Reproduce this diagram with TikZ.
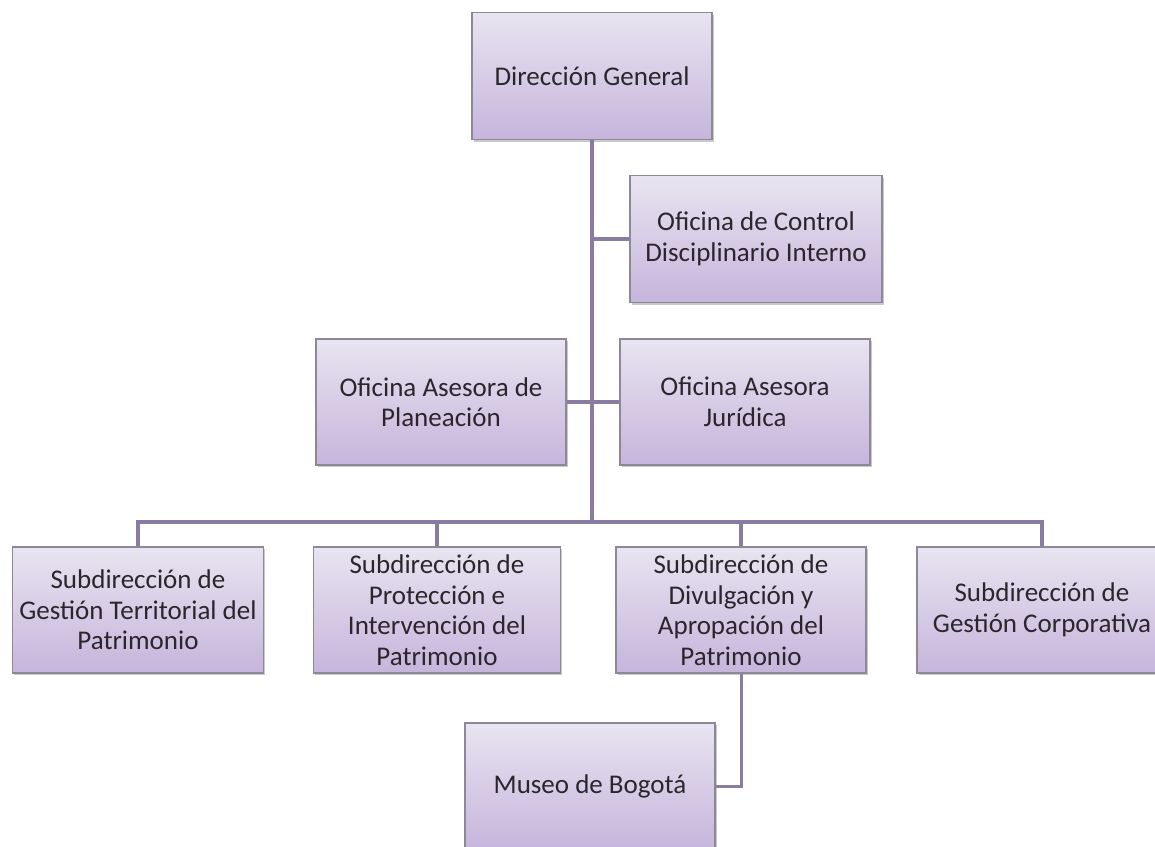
\documentclass[tikz,border=0pt]{standalone}
\usepackage{fontspec}
\setmainfont{Carlito}
\usetikzlibrary{shadows}
\definecolor{boxtop}{HTML}{E8E4F0}
\definecolor{boxbot}{HTML}{C6B5DC}
\definecolor{boxline}{HTML}{8C8898}
\definecolor{conn}{HTML}{8A7BA0}
\definecolor{txt}{HTML}{2A262C}
\tikzset{
  orgbox/.style={rectangle, draw=boxline, line width=1.2pt, top color=boxtop, bottom color=boxbot,
    minimum width=250pt, minimum height=126pt, inner sep=2pt, align=center, text=txt,
    font=\fontsize{27}{30.5}\selectfont,
    drop shadow={shadow xshift=1.5pt, shadow yshift=-2pt, opacity=0.35, fill=black!60}},
  orgline/.style={draw=conn, line width=3.5pt}
}
\begin{document}
\begin{tikzpicture}[x=1pt,y=-1pt]
\useasboundingbox (0,0) rectangle (1155,846);
\clip (0,0) rectangle (1155,846);
\fill[white] (0,0) rectangle (1155,846);
% nodes
\node[orgbox, minimum width=240pt, minimum height=127pt] (dg) at (592,76) {Dirección General};
\node[orgbox, minimum width=252pt, minimum height=127pt] (ctl) at (756,239) {Oficina de Control\\Disciplinario Interno};
\node[orgbox] (plan) at (441,402) {Oficina Asesora de\\Planeación};
\node[orgbox] (jur) at (745,402) {Oficina Asesora\\Jurídica};
\node[orgbox, minimum width=251pt] (s1) at (138,610) {Subdirección de\\Gestión Territorial del\\Patrimonio};
\node[orgbox, minimum width=247pt] (s2) at (437,610) {Subdirección de\\Protección e\\Intervención del\\Patrimonio};
\node[orgbox] (s3) at (741,610) {Subdirección de\\Divulgación y\\Apropación del\\Patrimonio};
\node[orgbox] (s4) at (1042,610) {Subdirección de\\Gestión Corporativa};
\node[orgbox] (mus) at (590,786) {Museo de Bogotá};
\coordinate (bus) at (592,522);
% connectors
\draw[orgline] (dg.south) -- (bus);
\draw[orgline] (ctl.west) -- (ctl.west -| dg.south);
\draw[orgline] (plan.east) -- (jur.west);
\draw[orgline] (s1.north) |- (bus) -| (s4.north);
\draw[orgline] (s2.north) -- (s2.north |- bus);
\draw[orgline] (s3.north) -- (s3.north |- bus);
\draw[orgline, line width=3pt] (s3.south) |- (mus.east);
\end{tikzpicture}
\end{document}
